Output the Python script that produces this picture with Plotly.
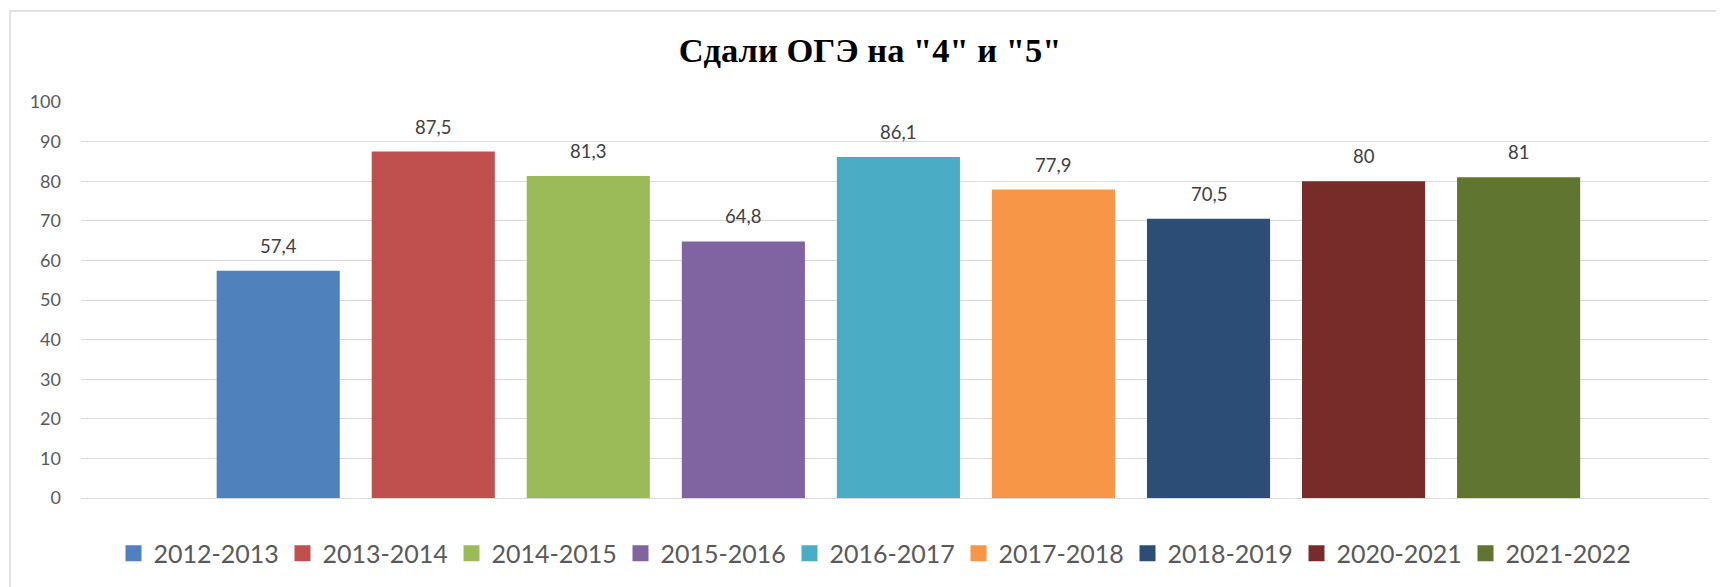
import plotly.graph_objects as go

years = ["2012-2013", "2013-2014", "2014-2015", "2015-2016", "2016-2017",
         "2017-2018", "2018-2019", "2020-2021", "2021-2022"]
values = [57.4, 87.5, 81.3, 64.8, 86.1, 77.9, 70.5, 80, 81]
colors = ["#4F81BD", "#C0504D", "#9BBB59", "#8064A2", "#4BACC6",
          "#F79646", "#2C4D75", "#772C2A", "#5F7530"]
title_text = 'Сдали ОГЭ на "4" и "5"'

# page body has an 8px default margin, so the figure is sized to fit the window
OFF = 8
W, H = 1724 - OFF, 587 - OFF
L, R, T, B = 81 - OFF, 15, 102 - OFF, 89

fig = go.Figure()
for i, (yr, v, c) in enumerate(zip(years, values, colors)):
    fig.add_trace(go.Bar(x=[i], y=[v], name=yr, marker_color=c,
                         marker_line_width=0, width=0.794, showlegend=False,
                         hoverinfo="name+y"))
    fig.add_trace(go.Scatter(x=[None], y=[None], mode="markers", name=yr,
                             marker=dict(symbol="square", size=16, color=c),
                             showlegend=True, hoverinfo="skip"))

def fmt(v):
    s = ("%g" % v)
    return s.replace(".", ",")

for i, v in enumerate(values):
    fig.add_annotation(x=i, y=v, text=fmt(v), showarrow=False, xref="x", yref="y",
                       yanchor="bottom", yshift=12,
                       font=dict(family="Lato", size=18.5, color="#404040"))

# chart-area border (light gray frame)
pw = W - L - R
ph = H - T - B
fig.add_shape(type="rect", xref="paper", yref="paper",
              x0=(2 - L) / pw, x1=(1740 - L) / pw,
              y0=(H - T - 620) / ph, y1=(H - B - 3) / ph,
              line=dict(color="#D9D9D9", width=1.5), fillcolor="rgba(0,0,0,0)",
              layer="below")

fig.update_layout(
    width=W, height=H,
    margin=dict(l=L, r=R, t=T, b=B, pad=0),
    paper_bgcolor="white", plot_bgcolor="white",
    barmode="overlay",
    title=dict(text=title_text, x=(870 - OFF) / W, xanchor="center", xref="container",
               y=1 - (50 - OFF) / H, yanchor="middle", yref="container",
               font=dict(family="Liberation Serif", size=34.5, color="black", weight="bold")),
    xaxis=dict(range=[-1.272, 9.228], showticklabels=False, showgrid=False,
               zeroline=False, showline=False, ticks=""),
    yaxis=dict(range=[0, 100], dtick=10, tick0=0, showgrid=True,
               gridcolor="#D9D9D9", gridwidth=1.3, zeroline=True,
               zerolinecolor="#D9D9D9", zerolinewidth=1.3, showline=False,
               ticks="", ticklabelstandoff=19,
               tickfont=dict(family="Lato", size=18, color="#595959")),
    legend=dict(orientation="h", xref="container", yref="container",
                x=(874 - OFF) / W, xanchor="center", y=1 - (553.5 - OFF) / H, yanchor="middle",
                font=dict(family="Lato", size=25, color="#595959"),
                itemsizing="trace", entrywidth=124, entrywidthmode="pixels",
                bgcolor="rgba(0,0,0,0)"),
    showlegend=True,
)

fig.write_html("out.html")
